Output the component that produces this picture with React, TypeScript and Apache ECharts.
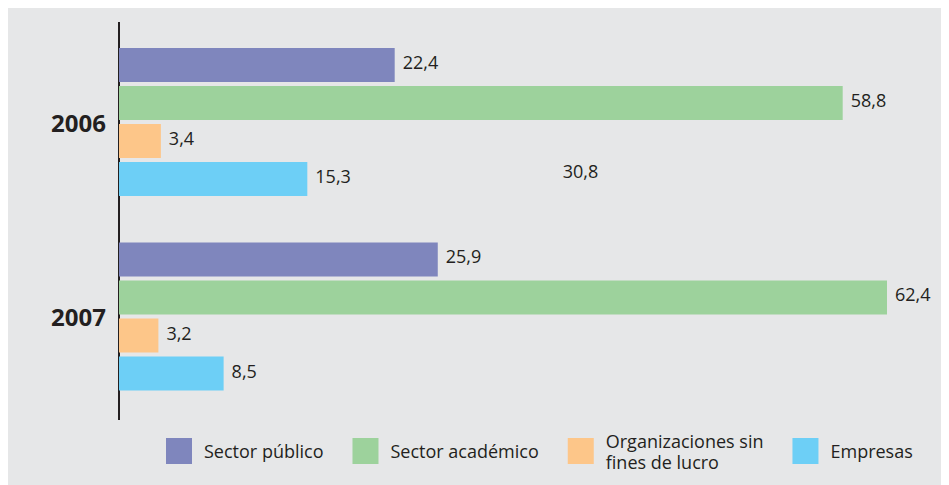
import React, { useEffect, useRef } from "react";
import * as echarts from "echarts";

const categories = ["2006", "2007"];
const seriesNames = ["Sector público", "Sector académico", "Organizaciones sin\nfines de lucro", "Empresas"];
const publico = [22.4, 25.9];
const academico = [58.8, 62.4];
const organizaciones = [3.4, 3.2];
const empresas = [15.3, 8.5];
const strayLabel = "30,8";
const colors = ["#7f86bd", "#9dd29c", "#fdc689", "#6dcff6"];

const FONT = "'Open Sans', 'Noto Sans', sans-serif";
const TEXT = "#231f20";

export default function App() {
  const ref = useRef<HTMLDivElement>(null);
  useEffect(() => {
    if (!ref.current) return;
    const chart = echarts.init(ref.current, null, { renderer: "svg" });
    const values = [publico, academico, organizaciones, empresas];
    chart.setOption({
      animation: false,
      backgroundColor: "#e6e7e8",
      textStyle: { fontFamily: FONT },
      grid: { left: 111, right: 30, top: 16.75, bottom: 71.25, containLabel: false },
      xAxis: {
        type: "value",
        min: 0,
        max: 65,
        show: false,
      },
      yAxis: {
        type: "category",
        data: categories,
        inverse: true,
        axisLine: { show: false },
        axisTick: { show: false },
        axisLabel: {
          fontSize: 24,
          fontWeight: "bold",
          color: TEXT,
          margin: 13,
          fontFamily: FONT,
          padding: [0, 0, 6, 0],
        },
      },
      legend: {
        left: 158,
        top: 422,
        padding: 0,
        itemWidth: 26,
        itemHeight: 26,
        itemGap: 29,
        icon: "rect",
        data: seriesNames,
        textStyle: {
          fontSize: 18,
          color: TEXT,
          fontFamily: FONT,
          lineHeight: 21,
          padding: [0, 0, 0, 7],
        },
      },
      series: seriesNames.map((name, i) => ({
        name,
        type: "bar",
        data: values[i],
        barWidth: 34,
        barGap: "12%",
        itemStyle: { color: colors[i] },
        label: {
          show: true,
          position: "right",
          distance: 8,
          offset: [0, -3],
          fontSize: 18,
          color: TEXT,
          fontFamily: FONT,
          formatter: (p: any) => String(p.value).replace(".", ","),
        },
      })),
      graphic: [
        {
          type: "line",
          shape: { x1: 111, y1: 14, x2: 111, y2: 412 },
          style: { stroke: TEXT, lineWidth: 2 },
        },
        {
          type: "text",
          x: 572.5,
          y: 163,
          style: {
            text: strayLabel,
            fontSize: 18,
            fill: TEXT,
            fontFamily: FONT,
            textAlign: "center",
            textVerticalAlign: "middle",
          },
        },
      ],
    });
    return () => chart.dispose();
  }, []);
  return <div ref={ref} style={{ width: 941, height: 477 }} />;
}
